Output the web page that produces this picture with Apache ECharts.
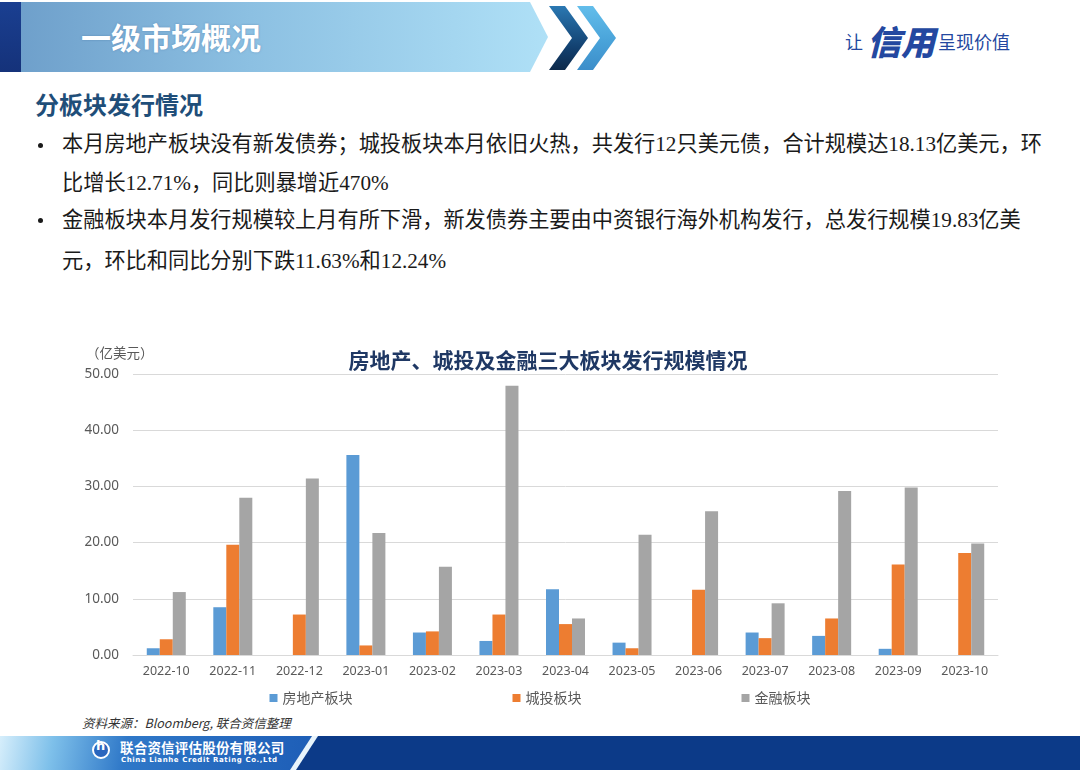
<!DOCTYPE html>
<html><head><meta charset="utf-8">
<script src="https://cdn.jsdelivr.net/npm/echarts@6/dist/echarts.min.js"></script>
<style>
html,body{margin:0;padding:0;width:1080px;height:770px;overflow:hidden;background:#fff;font-family:"Noto Sans CJK SC",sans-serif;}
.abs{position:absolute;white-space:nowrap;}
#chart{position:absolute;left:0;top:0;width:1080px;height:770px;z-index:1;}
.banner{left:0;top:2px;width:556px;height:70px;background:linear-gradient(90deg,#6C9DC9 0%,#8CC0E2 45%,#B0E1F7 100%);clip-path:polygon(0 0,530px 0,548px 35px,530px 70px,0 70px);}
.strip{left:0;top:2px;width:21px;height:70px;background:linear-gradient(180deg,#1A3F91,#15327A);}
.htitle{left:81px;top:14px;font-size:30px;font-weight:bold;color:#fff;text-shadow:0 0 2px rgba(60,100,150,0.5);}
.chev1{left:0;top:0;width:620px;height:80px;background:linear-gradient(180deg,#2E80BC 0%,#12406F 60%,#0A1F3A 100%);clip-path:polygon(549px 6px,565px 6px,588px 38px,565px 70px,549px 70px,572px 38px);}
.chev2{left:0;top:0;width:620px;height:80px;background:linear-gradient(180deg,#67C2EE 0%,#4AA4DA 50%,#3786C4 100%);clip-path:polygon(577px 6px,593px 6px,616px 38px,593px 70px,577px 70px,600px 38px);}
.slogan{left:845px;top:16px;color:#2448A0;}
.heading{left:35px;top:86px;font-size:24px;font-weight:bold;color:#1F4E79;}
.body{font-family:"Liberation Serif","Noto Sans CJK SC",serif;font-size:21.2px;color:#1a1a1a;}
.dot{width:5px;height:5px;border-radius:50%;background:#1a1a1a;}
.src{left:82px;top:713px;font-size:12.5px;font-style:italic;color:#333;}
.band{left:0;top:736px;width:1080px;height:34px;background:#0C3A88;}
.bandL{left:0;top:736px;width:330px;height:34px;background:linear-gradient(100deg,#D6EEFB 0%,#7EC0EA 16%,#2F78C8 38%,#1C5BB5 100%);clip-path:polygon(0 0,312px 0,290px 34px,0 34px);}
.bandLine{left:0;top:736px;width:330px;height:34px;background:#E8F4FC;clip-path:polygon(312px 0,318px 0,296px 34px,290px 34px);}
.logo{left:92px;top:741px;width:14px;height:14px;border:2px solid #fff;border-radius:50%;background:#2A66BE;}
.logoh{left:96px;top:738px;font-family:"DejaVu Sans",sans-serif;font-size:13px;font-weight:bold;color:#fff;}
.cname{left:120px;top:739px;font-size:13.5px;font-weight:bold;color:#fff;letter-spacing:0.2px;line-height:16px;}
.ename{left:121px;top:756px;font-family:"DejaVu Sans",sans-serif;font-size:7px;font-weight:bold;color:#fff;letter-spacing:0.6px;line-height:9px;}
</style>
</head>
<body>
<div class="abs banner"></div>
<div class="abs strip"></div>
<div class="abs htitle">一级市场概况</div>
<div class="abs chev1"></div>
<div class="abs chev2"></div>
<div class="abs slogan"><span style="font-size:18px;vertical-align:middle;">让</span><span style="font-family:'Noto Sans CJK SC';font-size:34px;font-weight:900;font-style:italic;vertical-align:middle;margin:0 3px 0 4px;">信用</span><span style="font-size:18px;vertical-align:middle;">呈现价值</span></div>

<div class="abs heading">分板块发行情况</div>
<div class="abs dot" style="left:38px;top:143px;"></div>
<div class="abs body" style="left:62px;top:126px;">本月房地产板块没有新发债券；城投板块本月依旧火热，共发行12只美元债，合计规模达18.13亿美元，环</div>
<div class="abs body" style="left:62px;top:165px;">比增长12.71%，同比则暴增近470%</div>
<div class="abs dot" style="left:38px;top:218px;"></div>
<div class="abs body" style="left:62px;top:202px;">金融板块本月发行规模较上月有所下滑，新发债券主要由中资银行海外机构发行，总发行规模19.83亿美</div>
<div class="abs body" style="left:62px;top:243px;">元，环比和同比分别下跌11.63%和12.24%</div>

<div class="abs src">资料来源：Bloomberg, 联合资信整理</div>
<div class="abs band"></div>
<div class="abs bandL"></div>
<div class="abs bandLine"></div>
<div class="abs logo"></div>
<div class="abs logoh">h</div>
<div class="abs cname">联合资信评估股份有限公司</div>
<div class="abs ename">China Lianhe Credit Rating Co.,Ltd</div>

<div id="chart"></div>
<script>
const categories = ['2022-10','2022-11','2022-12','2023-01','2023-02','2023-03','2023-04','2023-05','2023-06','2023-07','2023-08','2023-09','2023-10'];
const seriesNames = ['房地产板块','城投板块','金融板块'];
const realEstate = [1.2, 8.5, 0, 35.6, 4.0, 2.5, 11.7, 2.2, 0, 4.0, 3.4, 1.1, 0];
const chengtou   = [2.8, 19.6, 7.2, 1.7, 4.2, 7.2, 5.5, 1.2, 11.6, 3.0, 6.5, 16.1, 18.13];
const finance    = [11.2, 28.0, 31.4, 21.7, 15.7, 47.9, 6.5, 21.4, 25.6, 9.2, 29.2, 29.8, 19.83];
const chartTitle = '房地产、城投及金融三大板块发行规模情况';
const unitLabel = '（亿美元）';

const colors = ['#5B9BD5','#ED7D31','#A5A5A5'];
const chart = echarts.init(document.getElementById('chart'), null, {renderer:'canvas'});
chart.setOption({
  backgroundColor: 'transparent',
  animation: false,
  color: colors,
  title: {
    text: chartTitle, left: 543, top: 345, textAlign: 'center',
    textStyle: {fontSize: 21, fontWeight: 'bold', color: '#1F3864', fontFamily: 'Noto Sans CJK SC'}
  },
  graphic: [{
    type: 'text', left: 86, top: 346,
    style: {text: unitLabel, fontSize: 13.5, fill: '#595959', fontFamily: 'Noto Sans CJK SC'}
  }],
  legend: {
    data: seriesNames, top: 686, left: 'center', icon: 'rect', itemWidth: 8, itemHeight: 8, itemGap: 160,
    textStyle: {fontSize: 14, color: '#595959', fontFamily: 'Noto Sans CJK SC'}
  },
  grid: {left: 133, right: 82, top: 374, bottom: 115, containLabel: false},
  xAxis: {
    type: 'category', data: categories,
    axisLine: {lineStyle: {color: '#D9D9D9'}}, axisTick: {show: false},
    axisLabel: {fontSize: 12.5, color: '#595959', margin: 10, fontFamily: 'Noto Sans'}
  },
  yAxis: {
    type: 'value', min: 0, max: 50, interval: 10,
    axisLine: {show: false}, axisTick: {show: false},
    splitLine: {lineStyle: {color: '#D9D9D9', width: 1}},
    axisLabel: {fontSize: 13.5, color: '#595959', margin: 14, fontFamily: 'Noto Sans', formatter: v => v.toFixed(2)}
  },
  series: [
    {name: seriesNames[0], type: 'bar', data: realEstate, barWidth: 13, barGap: '0%'},
    {name: seriesNames[1], type: 'bar', data: chengtou, barWidth: 13, barGap: '0%'},
    {name: seriesNames[2], type: 'bar', data: finance, barWidth: 13, barGap: '0%'}
  ]
});
</script>
</body></html>
